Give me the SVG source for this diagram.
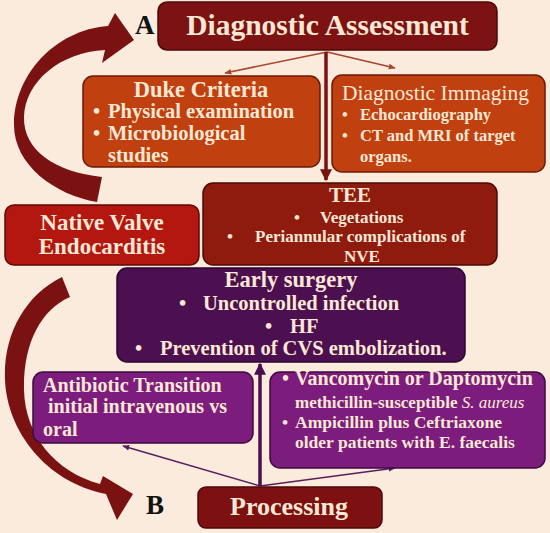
<svg xmlns="http://www.w3.org/2000/svg" width="550" height="533" viewBox="0 0 550 533">
<defs>
<style>
.t{font-family:"Liberation Serif","Times New Roman",serif;font-weight:bold;fill:#FCE8D5}
.c{text-anchor:middle}
.lbl{font-family:"Liberation Serif","Times New Roman",serif;font-weight:bold;fill:#111}
.box{stroke-width:1.5}
</style>
<marker id="ar" viewBox="0 0 10 10" refX="9" refY="5" markerWidth="7" markerHeight="7" orient="auto" markerUnits="userSpaceOnUse"><path d="M0,1 L10,5 L0,9 z" fill="#A8452C"/></marker>
<marker id="ard" viewBox="0 0 10 10" refX="9" refY="5" markerWidth="12" markerHeight="12" orient="auto" markerUnits="userSpaceOnUse"><path d="M0,0 L10,5 L0,10 z" fill="#7A1212"/></marker>
<marker id="arp" viewBox="0 0 10 10" refX="9" refY="5" markerWidth="7" markerHeight="7" orient="auto" markerUnits="userSpaceOnUse"><path d="M0,1 L10,5 L0,9 z" fill="#5A1E5E"/></marker>
<marker id="arpd" viewBox="0 0 10 10" refX="9" refY="5" markerWidth="12" markerHeight="12" orient="auto" markerUnits="userSpaceOnUse"><path d="M0,0 L10,5 L0,10 z" fill="#4A0F4E"/></marker>
</defs>
<rect width="550" height="533" fill="#FBEBDC"/>

<g id="curved-arrows" fill="#7A1212">
<path d="M97,202 C55,195 14,165 14,125 C14,75 55,30 108,26 L115,13 L134,40 L102,63 L105,50 C60,52 25,82 24,117 C23,150 55,172 102,177 Z"/>
<path d="M62,277 C25,295 3,335 5,380 C7,430 45,482 106,494 L117,520 L133,494 L103,476 L100,484 C55,472 25,435 24,390 C23,345 40,310 70,297 Z"/>
</g>

<g id="connectors" fill="none">
<line x1="327" y1="52" x2="225" y2="73" stroke="#A8452C" stroke-width="1.5" marker-end="url(#ar)"/>
<line x1="327" y1="52" x2="395" y2="68" stroke="#A8452C" stroke-width="1.5" marker-end="url(#ar)"/>
<line x1="326" y1="52" x2="326" y2="180" stroke="#7A1212" stroke-width="3.5" marker-end="url(#ard)"/>
<line x1="260" y1="486" x2="123" y2="446" stroke="#5A1E5E" stroke-width="1.5" marker-end="url(#arp)"/>
<line x1="260" y1="486" x2="395" y2="468" stroke="#5A1E5E" stroke-width="1.5" marker-end="url(#arp)"/>
<line x1="260" y1="486" x2="260" y2="364" stroke="#4A0F4E" stroke-width="3.5" marker-end="url(#arpd)"/>
</g>

<g id="label-A"><text class="lbl" x="135" y="34" font-size="27">A</text></g>
<g id="label-B"><text class="lbl" x="146" y="514" font-size="27">B</text></g>

<g id="diagnostic-assessment">
<rect class="box" x="158" y="2" width="339" height="48" rx="9" fill="#7D1212" stroke="#4E0808"/>
<text class="t c" x="327.5" y="35" font-size="29.5">Diagnostic Assessment</text>
</g>

<g id="duke-criteria">
<rect class="box" x="83" y="76" width="237" height="91" rx="10" fill="#C0410F" stroke="#6E1A08"/>
<text class="t c" x="201" y="97" font-size="22.5">Duke Criteria</text>
<text class="t" font-size="20.5"><tspan x="93" y="118">•</tspan><tspan x="108" y="118">Physical examination</tspan><tspan x="93" y="140">•</tspan><tspan x="108" y="140">Microbiological</tspan><tspan x="108" y="162">studies</tspan></text>
</g>

<g id="diagnostic-imaging">
<rect class="box" x="332" y="75" width="213" height="97" rx="10" fill="#C0410F" stroke="#6E1A08"/>
<text class="t" x="342" y="100" font-size="21.5" font-weight="normal" style="font-weight:normal">Diagnostic Immaging</text>
<text class="t" font-size="16.5"><tspan x="342" y="120">•</tspan><tspan x="360" y="120">Echocardiography</tspan><tspan x="342" y="141">•</tspan><tspan x="360" y="141">CT and MRI of target</tspan><tspan x="360" y="162">organs.</tspan></text>
</g>

<g id="tee">
<rect class="box" x="203" y="183" width="294" height="82" rx="10" fill="#8E1B0E" stroke="#4E0A06"/>
<text class="t c" x="350" y="202" font-size="21">TEE</text>
<text class="t" font-size="17"><tspan x="294" y="223">•</tspan><tspan x="320" y="223">Vegetations</tspan><tspan x="227" y="242">•</tspan><tspan x="255" y="242">Periannular complications of</tspan></text>
<text class="t c" x="362" y="262" font-size="17">NVE</text>
</g>

<g id="native-valve">
<rect class="box" x="5" y="205" width="194" height="60" rx="9" fill="#B3170F" stroke="#5E0A06"/>
<text class="t c" x="102" y="230" font-size="23">Native Valve</text>
<text class="t c" x="102" y="254" font-size="23">Endocarditis</text>
</g>

<g id="early-surgery">
<rect class="box" x="117" y="268" width="348" height="94" rx="10" fill="#4C0F4F" stroke="#2A0630"/>
<text class="t c" x="291" y="287" font-size="22.5">Early surgery</text>
<text class="t" font-size="20.5"><tspan x="179" y="310">•</tspan><tspan x="203" y="310">Uncontrolled infection</tspan><tspan x="265" y="333">•</tspan><tspan x="290" y="333">HF</tspan><tspan x="135" y="355">•</tspan><tspan x="160" y="355">Prevention of CVS embolization.</tspan></text>
</g>

<g id="antibiotic-transition">
<rect class="box" x="33" y="372" width="220" height="71" rx="10" fill="#7C1C7C" stroke="#3E0A40"/>
<text class="t" font-size="20"><tspan x="43" y="392">Antibiotic Transition</tspan><tspan x="48" y="413">initial intravenous vs</tspan><tspan x="43" y="436">oral</tspan></text>
</g>

<g id="antibiotic-regimens">
<rect class="box" x="270" y="372" width="275" height="96" rx="10" fill="#7C1C7C" stroke="#3E0A40"/>
<text class="t" font-size="20"><tspan x="282" y="385">•</tspan><tspan x="295" y="385">Vancomycin or Daptomycin</tspan></text>
<text class="t" font-size="17" x="295" y="408">methicillin-susceptible <tspan font-style="italic" font-weight="normal">S. aureus</tspan></text>
<text class="t" font-size="17.5"><tspan x="282" y="428">•</tspan><tspan x="295" y="428">Ampicillin plus Ceftriaxone</tspan><tspan x="295" y="448">older patients with E. faecalis</tspan></text>
</g>

<g id="processing">
<rect class="box" x="198" y="487" width="184" height="41" rx="8" fill="#7D1010" stroke="#4E0808"/>
<text class="t c" x="289" y="515" font-size="26">Processing</text>
</g>
</svg>
